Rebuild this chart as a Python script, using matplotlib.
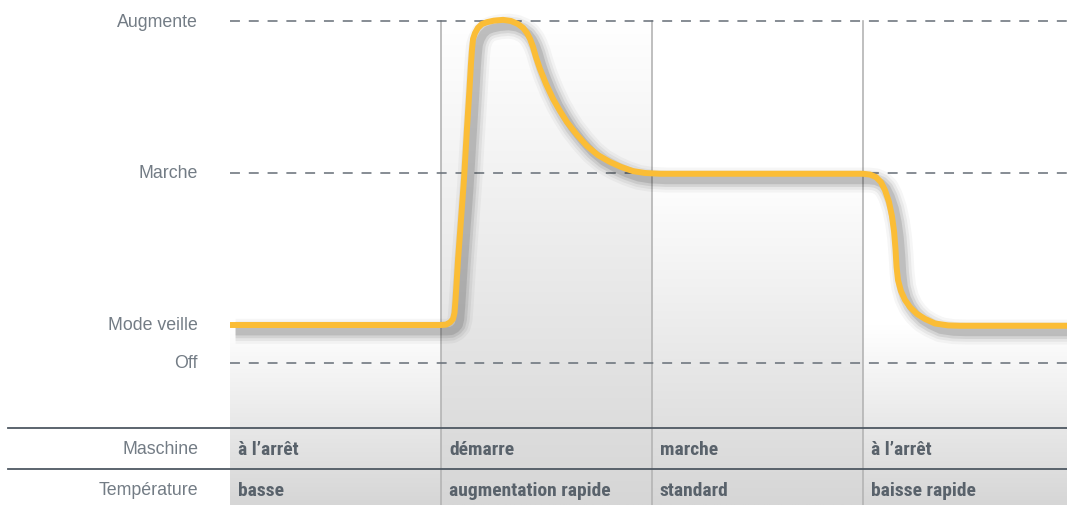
import matplotlib
matplotlib.use('Agg')
import matplotlib.pyplot as plt
import matplotlib.patheffects as pe
from matplotlib.colors import LinearSegmentedColormap
import numpy as np

# levels (y) and their labels
level_names = ['Off', 'Mode veille', 'Marche', 'Augmente']
level_values = [0, 1, 5, 9]

# phases (one column per phase, x in phase units)
phase_edges = [0, 1, 2, 3, 4]
phase_tops = [1, 9, 5, 1]          # how high the grey shading goes in each phase
row_names = ['Maschine', 'Température']
row_machine = ['à l\u2019arrêt', 'démarre', 'marche', 'à l\u2019arrêt']
row_temp = ['basse', 'augmentation rapide', 'standard', 'baisse rapide']

# curve
curve_x = [0.000, 1.000, 1.024, 1.043, 1.057, 1.064, 1.069, 1.081, 1.095, 1.109,
           1.123, 1.135, 1.142, 1.147, 1.152, 1.161, 1.175, 1.194, 1.218, 1.251,
           1.294, 1.332, 1.365, 1.389, 1.408, 1.422, 1.436, 1.450, 1.469, 1.498,
           1.531, 1.564, 1.597, 1.645, 1.692, 1.744, 1.801, 1.853, 1.910, 1.967,
           2.038, 3.000, 3.033, 3.062, 3.085, 3.104, 3.123, 3.137, 3.147, 3.154,
           3.159, 3.166, 3.180, 3.199, 3.223, 3.256, 3.294, 3.341, 3.403, 3.460,
           3.967]
curve_y = [1.00, 1.00, 1.01, 1.07, 1.16, 1.32, 1.68, 2.74, 3.79, 4.84,
           6.16, 7.21, 7.87, 8.26, 8.53, 8.68, 8.82, 8.92, 8.97, 9.01,
           9.03, 9.00, 8.92, 8.82, 8.68, 8.53, 8.32, 8.05, 7.74, 7.34,
           6.95, 6.63, 6.34, 6.00, 5.71, 5.47, 5.29, 5.16, 5.05, 5.00,
           4.98, 4.98, 4.96, 4.89, 4.76, 4.55, 4.24, 3.87, 3.47, 3.00,
           2.53, 2.18, 1.89, 1.66, 1.47, 1.29, 1.16, 1.04, 0.99, 0.98,
           0.98]

txt_grey = '#737c85'
cell_grey = '#59626b'
dash_grey = '#666e77'

fig = plt.figure(figsize=(10.67, 5.06), dpi=100)
ax = fig.add_axes([0, 0, 1, 1])
ax.set_axis_off()

px = 211.0   # pixels per phase
py = 38.0    # pixels per level unit
x_left = -230 / px
x_right = (1067 - 230) / px
y_top = 364 / py
y_bot = (364 - 506) / py

cmap = LinearSegmentedColormap.from_list('g', ['#ffffff', '#d6d6d6'])
grad = np.linspace(0, 1, 256).reshape(-1, 1)
for i in range(4):
    x0, x1 = phase_edges[i], min(phase_edges[i + 1], x_right)
    ax.imshow(grad, extent=[x0, x1, y_bot, phase_tops[i]], origin='upper',
              cmap=cmap, aspect='auto', zorder=0, interpolation='bilinear')

# phase separators
for xe in phase_edges[1:4]:
    ax.plot([xe, xe], [level_values[-1], y_bot], color='#b4b4b4', lw=1.2, zorder=1)

# dashed level lines (not for Mode veille)
for name, v in zip(level_names, level_values):
    if name != 'Mode veille':
        ax.plot([0, x_right], [v, v], color=dash_grey, lw=1.1,
                dashes=(6.5, 5.8), zorder=2)
    ax.text(-32 / px, v, name, ha='right', va='center', fontsize=12.8,
            color=txt_grey, family='Liberation Sans')

# curve with soft shadow
off = (4, -4.5)
shadow = [pe.SimpleLineShadow(offset=off, shadow_color='black', alpha=0.035, linewidth=18),
          pe.SimpleLineShadow(offset=off, shadow_color='black', alpha=0.05, linewidth=14),
          pe.SimpleLineShadow(offset=off, shadow_color='black', alpha=0.08, linewidth=10),
          pe.SimpleLineShadow(offset=off, shadow_color='black', alpha=0.11, linewidth=6),
          pe.Normal()]
ax.plot(curve_x, curve_y, color='#fbbd36', lw=4.3, solid_joinstyle='round',
        solid_capstyle='butt', zorder=4, path_effects=shadow)

# table
row_lines = [(364 - 429) / py, (364 - 470) / py]
row_text = [(364 - 450) / py, (364 - 491) / py]
for yl in row_lines:
    ax.plot([-222 / px, x_right], [yl, yl], color='#4e5862', lw=1.3, zorder=3)
for name, yt, vals in zip(row_names, row_text, [row_machine, row_temp]):
    ax.text(-32 / px, yt, name, ha='right', va='center', fontsize=12.8,
            color=txt_grey, family='Liberation Sans')
    for i, s in enumerate(vals):
        ax.text(phase_edges[i] + 8 / px, yt, s, ha='left', va='center', fontsize=14,
                color=cell_grey, fontweight='bold',
                family=['Roboto Condensed', 'Liberation Sans Narrow', 'Roboto', 'DejaVu Sans'])

ax.set_xlim(x_left, x_right)
ax.set_ylim(y_bot, y_top)

fig.savefig('out.png', dpi=100)
